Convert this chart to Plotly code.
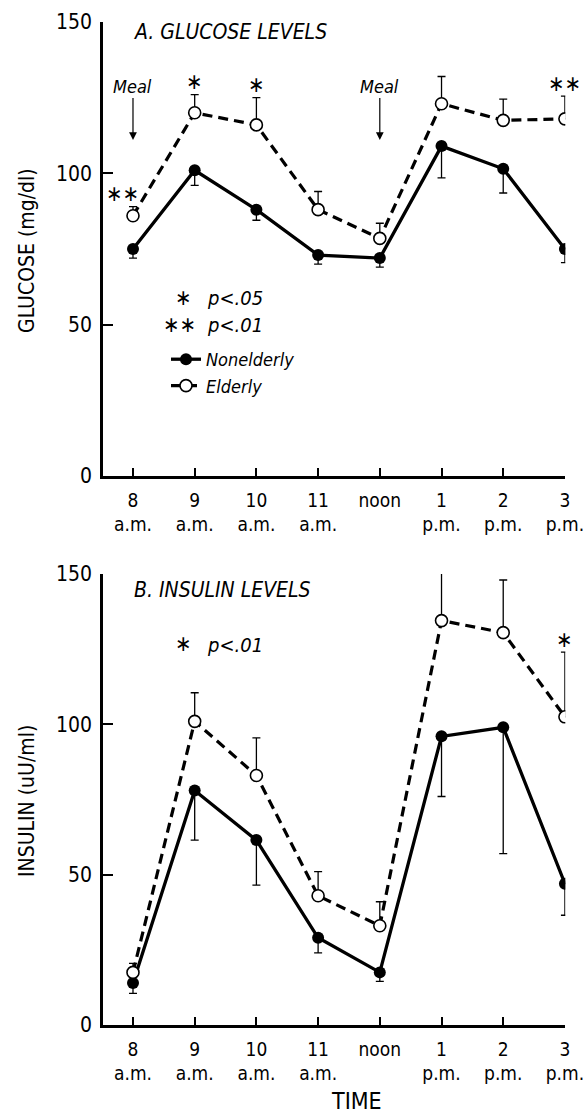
import plotly.graph_objects as go

# ---------------- data ----------------
times = ["8 a.m.", "9 a.m.", "10 a.m.", "11 a.m.", "noon", "1 p.m.", "2 p.m.", "3 p.m."]
tick_num = ["8", "9", "10", "11", "noon", "1", "2", "3"]
tick_sub = ["a.m.", "a.m.", "a.m.", "a.m.", "", "p.m.", "p.m.", "p.m."]

glucose_nonelderly = [75, 101, 88, 73, 72, 109, 101.5, 75]
glucose_nonelderly_err = [3, 5, 3.5, 3, 3, 10.5, 8, 4.5]
glucose_elderly = [86, 120, 116, 88, 78.5, 123, 117.5, 118]
glucose_elderly_err = [3, 6, 9, 6, 5, 9, 7, 7.5]
glucose_sig = ["**", "*", "*", "", "", "", "", "**"]

insulin_nonelderly = [14, 78, 61.5, 29, 17.5, 96, 99, 47]
insulin_nonelderly_err = [3.5, 16.5, 15, 5, 3, 20, 42, 10.5]
insulin_elderly = [17.5, 101, 83, 43, 33, 134.5, 130.5, 102.5]
insulin_elderly_err = [3, 9.5, 12.5, 8, 8, 16.5, 17.5, 21.5]
insulin_sig = ["", "", "", "", "", "", "", "*"]

meal_times = ["8 a.m.", "noon"]
y_ticks = [0, 50, 100, 150]

FONT = "DejaVu Sans Condensed, Liberation Sans Narrow, DejaVu Sans, sans-serif"
W, H = 586, 1120


def px_x(p):
    return p / W


def px_y(p):
    return 1 - p / H


fig = go.Figure()


def add_panel(non, non_err, eld, eld_err, xa, ya, show):
    zeros = [0] * len(times)
    fig.add_trace(go.Scatter(
        x=times, y=non, mode="lines+markers", name="<i>Nonelderly</i>",
        xaxis=xa, yaxis=ya, showlegend=show,
        line=dict(color="black", width=3.3),
        marker=dict(symbol="circle", size=12, color="black"),
        error_y=dict(type="data", symmetric=False, array=zeros, arrayminus=non_err,
                     thickness=1.3, width=4, color="black"),
    ))
    fig.add_trace(go.Scatter(
        x=times, y=eld, mode="lines+markers", name="<i>Elderly</i>",
        xaxis=xa, yaxis=ya, showlegend=show,
        line=dict(color="black", width=3.2, dash="10px,6px"),
        marker=dict(symbol="circle", size=12, color="white",
                    line=dict(color="black", width=1.6)),
        error_y=dict(type="data", symmetric=False, array=eld_err, arrayminus=zeros,
                     thickness=1.3, width=4, color="black"),
    ))


add_panel(glucose_nonelderly, glucose_nonelderly_err, glucose_elderly, glucose_elderly_err, "x", "y", True)
add_panel(insulin_nonelderly, insulin_nonelderly_err, insulin_elderly, insulin_elderly_err, "x2", "y2", False)

ticktext = []
for n, s in zip(tick_num, tick_sub):
    if s:
        ticktext.append(f"{n}<br>{s}")
    else:
        ticktext.append(n)

xcommon = dict(
    type="category", categoryorder="array", categoryarray=times,
    range=[-0.486, 7.006], domain=[px_x(103), px_x(565.3)],
    showline=True, linecolor="black", linewidth=2.6,
    ticks="inside", ticklen=8, tickwidth=2.4, tickcolor="black",
    tickvals=times, ticktext=ticktext, ticklabelstandoff=5,
    tickfont=dict(family=FONT, size=19, color="black"),
    showgrid=False, zeroline=False, fixedrange=True, automargin=False,
)
ycommon = dict(
    range=[0, 150], tickvals=y_ticks,
    showline=True, linecolor="black", linewidth=2.6,
    ticks="inside", ticklen=10, tickwidth=2.4, tickcolor="black",
    tickfont=dict(family=FONT, size=21, color="black"), ticklabelstandoff=4,
    showgrid=False, zeroline=False, fixedrange=True, automargin=False,
)

fig.update_layout(
    width=W, height=H, margin=dict(l=0, r=0, t=0, b=0, pad=0, autoexpand=False),
    paper_bgcolor="white", plot_bgcolor="white",
    font=dict(family=FONT, color="black"),
    xaxis=dict(**xcommon, anchor="y"),
    yaxis=dict(**ycommon, anchor="x", domain=[px_y(476), px_y(22)]),
    xaxis2=dict(**xcommon, anchor="y2"),
    yaxis2=dict(**ycommon, anchor="x2", domain=[px_y(1025), px_y(574)]),
    legend=dict(x=px_x(166), y=px_y(341), xanchor="left", yanchor="top",
                bgcolor="rgba(0,0,0,0)", borderwidth=0, tracegroupgap=0,
                font=dict(family=FONT, size=18, color="black")),
    showlegend=True,
)

ann = []
# panel titles
ann.append(dict(text="<i>A. GLUCOSE LEVELS</i>", xref="paper", yref="paper",
                x=px_x(132), y=px_y(32), xanchor="left", yanchor="middle",
                showarrow=False, font=dict(size=21)))
ann.append(dict(text="<i>B. INSULIN LEVELS</i>", xref="paper", yref="paper",
                x=px_x(132), y=px_y(590), xanchor="left", yanchor="middle",
                showarrow=False, font=dict(size=21)))
# axis titles
ann.append(dict(text="GLUCOSE (mg/dl)", xref="paper", yref="paper", textangle=-90,
                x=px_x(27), y=px_y(251), xanchor="center", yanchor="middle",
                showarrow=False, font=dict(size=21)))
ann.append(dict(text="INSULIN (uU/ml)", xref="paper", yref="paper", textangle=-90,
                x=px_x(27), y=px_y(801), xanchor="center", yanchor="middle",
                showarrow=False, font=dict(size=21)))
ann.append(dict(text="TIME", xref="paper", yref="paper",
                x=px_x(356), y=px_y(1101), xanchor="center", yanchor="middle",
                showarrow=False, font=dict(size=23)))
# meal arrows
for m in meal_times:
    ann.append(dict(text="<i>Meal</i>", xref="x", yref="y", x=m, y=111,
                    ax=0, ay=-54, showarrow=True, arrowhead=2, arrowsize=1.3,
                    arrowwidth=1.2, arrowcolor="black", standoff=0,
                    font=dict(size=18)))
# significance legend
ann.append(dict(text="∗", xref="paper", yref="paper", x=px_x(183), y=px_y(298),
                xanchor="center", yanchor="middle", showarrow=False, font=dict(size=22)))
ann.append(dict(text="<i>p&lt;.05</i>", xref="paper", yref="paper", x=px_x(205), y=px_y(298),
                xanchor="left", yanchor="middle", showarrow=False, font=dict(size=20)))
ann.append(dict(text="∗∗", xref="paper", yref="paper", x=px_x(179), y=px_y(325),
                xanchor="center", yanchor="middle", showarrow=False, font=dict(size=22)))
ann.append(dict(text="<i>p&lt;.01</i>", xref="paper", yref="paper", x=px_x(205), y=px_y(325),
                xanchor="left", yanchor="middle", showarrow=False, font=dict(size=20)))
ann.append(dict(text="∗", xref="paper", yref="paper", x=px_x(183), y=px_y(643),
                xanchor="center", yanchor="middle", showarrow=False, font=dict(size=22)))
ann.append(dict(text="<i>p&lt;.01</i>", xref="paper", yref="paper", x=px_x(205), y=px_y(645),
                xanchor="left", yanchor="middle", showarrow=False, font=dict(size=20)))

# significance stars above elderly error bars
for sig, vals, errs, xr, yr in [
    (glucose_sig, glucose_elderly, glucose_elderly_err, "x", "y"),
    (insulin_sig, insulin_elderly, insulin_elderly_err, "x2", "y2"),
]:
    for i, s in enumerate(sig):
        if not s:
            continue
        ann.append(dict(text=s.replace("*", "∗"), xref=xr, yref=yr, x=times[i], y=vals[i] + errs[i],
                        xanchor="center", yanchor="middle", yshift=13,
                        xshift=-10 if i == 0 else 0,
                        showarrow=False, font=dict(size=22)))

fig.update_layout(annotations=ann)
fig.write_html("out.html")
